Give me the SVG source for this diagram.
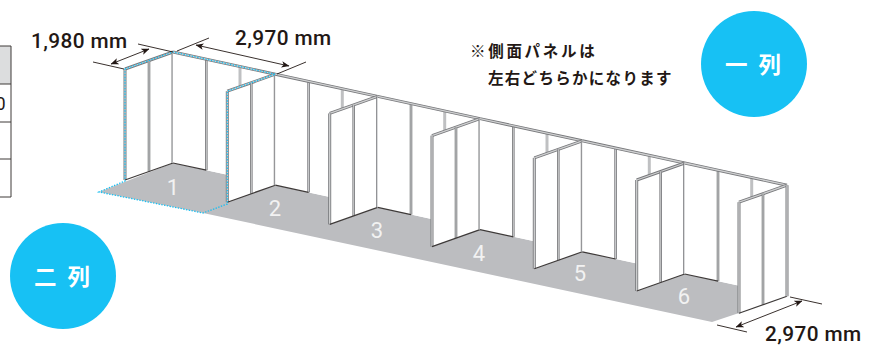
<svg xmlns="http://www.w3.org/2000/svg" xmlns:xlink="http://www.w3.org/1999/xlink" width="890" height="345" viewBox="0 0 890 345">
<style>
.o{fill:none;stroke:#77787b;stroke-width:3}
.i{fill:none;stroke:#cfd0d1;stroke-width:1.3}
.pl{fill:none;stroke:#bfc0c2;stroke-width:3}
.thin{fill:none;stroke:#3e3a39;stroke-width:1.2}
.w{fill:#fff;stroke:none}
.dim{fill:none;stroke:#231815;stroke-width:.9}
.dot{fill:none;stroke:#18bff2;stroke-width:1.3;stroke-dasharray:1.4 1.4}
.t{fill:none;stroke:#3e3a39;stroke-width:1}
.lab{font-family:Roboto,"Liberation Sans",sans-serif;font-size:20.8px;font-weight:500;fill:#231815;letter-spacing:.4px}
.num{font-family:Roboto,"Liberation Sans",sans-serif;font-size:22px;fill:#f2f2f2;text-anchor:middle}
.note{font-family:"Noto Sans CJK JP",sans-serif;font-size:15.5px;font-weight:700;fill:#231815}
.cir{font-family:"Noto Sans CJK JP",sans-serif;font-size:22.500px;font-weight:700;fill:#fff;letter-spacing:3px}
</style>
<defs>
<marker id="a" viewBox="0 0 8 8" refX="7.5" refY="4" markerWidth="8" markerHeight="8" orient="auto-start-reverse" markerUnits="userSpaceOnUse"><path d="M0 .8L8 4L0 7.2L2 4Z" fill="#231815"/></marker>
<g id="side">
<path class="w" d="M0 0L-48 17V128L0 111Z"/>
<path class="o" d="M0 0L-48 17"/><path class="i" d="M0 0L-48 17"/>
<path class="o" style="stroke-width:2.6" d="M-24 8.500V119.500"/><path class="i" style="stroke-width:1" d="M-24 8.500V119.500"/>
<path class="o" d="M-48 17V128"/><path class="i" d="M-48 17V128"/>
<path class="thin" d="M0 111L-48 128"/>
<path class="o" d="M0 0V111"/><path class="i" d="M0 0V111"/>
</g>
<g id="wall">
<path class="w" d="M0 0L102.300 22.200V133.200L67 125.500L33.300 118.200L0 111Z"/>
<path class="pl" d="M67 14.500V125.500"/>
<path class="o" style="stroke-width:2.6" d="M33.300 7.200V118.200"/><path class="i" style="stroke-width:1" d="M33.300 7.200V118.200"/>
<path class="thin" d="M0 111L33.300 118.200"/>
<path class="o" d="M0 0L102.300 22.200"/><path class="i" d="M0 0L102.300 22.200"/>
</g>
</defs>

<g id="table">
<rect x="-2" y="46" width="13" height="38" fill="#dcddde"/>
<path class="t" d="M0 46H11V197H0M0 84H11M0 122H11M0 159H11"/>
<text x="5.500" y="110" text-anchor="end" style="font-family:Roboto,'Liberation Sans',sans-serif;font-size:18px;fill:#231815">0</text>
</g>

<g id="floor"><path d="M99 192L173 163L787 296L739 313L712 322L203 213Z" fill="#bcbdc0"/></g>

<g id="booth-1"><use href="#side" x="173" y="52"/><use href="#wall" x="173" y="52"/><text class="num" x="173" y="195">1</text></g>
<g id="booth-2"><use href="#side" x="275.300" y="74.200"/><use href="#wall" x="275.300" y="74.200"/><text class="num" x="275" y="216">2</text></g>
<g id="booth-3"><use href="#side" x="377.700" y="96.400"/><use href="#wall" x="377.700" y="96.400"/><text class="num" x="377" y="238">3</text></g>
<g id="booth-4"><use href="#side" x="480" y="118.600"/><use href="#wall" x="480" y="118.600"/><text class="num" x="479" y="261">4</text></g>
<g id="booth-5"><use href="#side" x="582.300" y="140.800"/><use href="#wall" x="582.300" y="140.800"/><text class="num" x="580" y="281">5</text></g>
<g id="booth-6"><use href="#side" x="684.700" y="163"/><use href="#wall" x="684.700" y="163"/><text class="num" x="684" y="304">6</text></g>
<g id="end-panel"><use href="#side" x="787" y="185.200"/></g>

<g id="outline"><path class="dot" d="M125 69L173 52L275.300 74.200L227.300 91.200V204L203 213L99 192L125 181Z"/></g>

<g id="dimensions">
<path class="dim" d="M93 62L124 69M138 44L173 52M177 51L209 38M277 74L306 62M790 297L822 304M717 325L747 332"/>
<path class="dim" d="M111 64L149 49" marker-start="url(#a)" marker-end="url(#a)"/>
<path class="dim" d="M196 45L289 66" marker-start="url(#a)" marker-end="url(#a)"/>
<path class="dim" d="M736 327L802 301" marker-start="url(#a)" marker-end="url(#a)"/>
<text class="lab" x="31" y="48">1,980 mm</text>
<text class="lab" x="235" y="45">2,970 mm</text>
<text class="lab" x="765" y="341">2,970 mm</text>
</g>

<g id="note">
<text class="note" x="470" y="57" style="letter-spacing:2.700px">※側面パネルは</text>
<text class="note" x="488" y="84" style="letter-spacing:1.300px">左右どちらかになります</text>
</g>

<g id="badge-1"><circle cx="754" cy="64" r="53" fill="#17c1f4"/><text class="cir" x="725" y="73">一 列</text></g>
<g id="badge-2"><circle cx="63" cy="276" r="53" fill="#17c1f4"/><text class="cir" x="34" y="285">二 列</text></g>
</svg>
